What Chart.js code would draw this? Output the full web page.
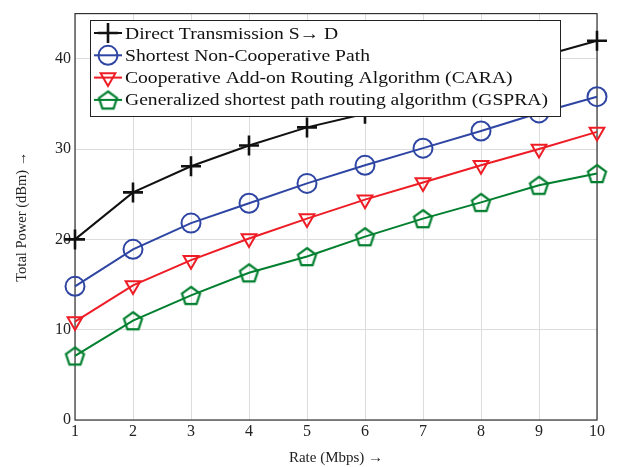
<!DOCTYPE html>
<html><head><meta charset="utf-8">
<script src="https://cdn.jsdelivr.net/npm/chart.js@4/dist/chart.umd.min.js"></script>
<style>html,body{margin:0;padding:0;background:#fff}#wrap{width:618px;height:467px}</style>
</head><body><div id="wrap"><canvas id="c" width="618" height="467"></canvas></div>
<script>
const rates = [1,2,3,4,5,6,7,8,9,10];
const direct = [20.0,25.2,28.1,30.4,32.4,33.9,36.0,38.1,40.2,42.0];
const shortest = [14.8,18.9,21.8,24.0,26.2,28.2,30.1,32.0,34.0,35.8];
const cara = [10.9,14.9,17.7,20.1,22.3,24.4,26.3,28.2,30.0,31.9];
const gspra = [7.1,11.0,13.8,16.3,18.1,20.3,22.3,24.1,26.0,27.3];
const labels = ["Direct Transmission S\u2192 D","Shortest Non-Cooperative Path","Cooperative Add-on Routing Algorithm (CARA)","Generalized shortest path routing algorithm (GSPRA)"];
const yTicks = [0,10,20,30,40];

const SERIF = "'Liberation Serif','DejaVu Serif',serif";

function pentagon(color, r){
  const s = Math.ceil(r*2+4);
  const cv = document.createElement('canvas'); cv.width=s; cv.height=s;
  const g = cv.getContext('2d');
  g.strokeStyle=color; g.lineWidth=2.2; g.lineJoin='miter';
  g.beginPath();
  for(let i=0;i<5;i++){
    const a = -Math.PI/2 + i*2*Math.PI/5;
    const x = s/2 + r*Math.cos(a), y = s/2 + 1 + r*Math.sin(a);
    if(i===0) g.moveTo(x,y); else g.lineTo(x,y);
  }
  g.closePath(); g.stroke();
  return cv;
}
const pent = pentagon('#007f2e', 9.5);

function mk(data){ return rates.map((x,i)=>({x, y:data[i]})); }

const datasets = [
  {label:labels[0], data:mk(direct), borderColor:'#111', pointStyle:'cross', pointRadius:10, pointBorderWidth:2.6, pointRotation:0},
  {label:labels[1], data:mk(shortest), borderColor:'#2e45a3', pointStyle:'circle', pointRadius:9.5, pointBorderWidth:2},
  {label:labels[2], data:mk(cara), borderColor:'#ee1c25', pointStyle:'triangle', pointRadius:8.5, pointBorderWidth:2, pointRotation:180},
  {label:labels[3], data:mk(gspra), borderColor:'#007f2e', pointStyle:pent, pointRadius:10, pointBorderWidth:2}
].map(d=>Object.assign({borderWidth:2, clip:false, backgroundColor:'rgba(0,0,0,0)', pointBackgroundColor:'rgba(0,0,0,0)', pointBorderColor:d.borderColor, tension:0}, d));

const frame = {
  id:'frame',
  beforeDatasetsDraw(chart){
    const {ctx, chartArea:a} = chart;
    ctx.save();
    ctx.strokeStyle='#333'; ctx.lineWidth=1.2;
    ctx.strokeRect(a.left, a.top, a.right-a.left, a.bottom-a.top);
    ctx.restore();
  },
  afterDatasetsDraw(chart){
    const {ctx} = chart;
    ctx.save();
    const lx=90, ly=20, lw=470, lh=96;
    ctx.fillStyle='#fff'; ctx.fillRect(lx,ly,lw,lh);
    ctx.strokeStyle='#222'; ctx.lineWidth=1; ctx.strokeRect(lx+0.5,ly+0.5,lw,lh);
    ctx.font = "17.5px " + SERIF;
    ctx.textBaseline='middle';
    chart.data.datasets.forEach((d,i)=>{
      const y = ly + 13 + i*22.3;
      const cx = 108;
      ctx.strokeStyle=d.borderColor; ctx.lineWidth=2;
      ctx.beginPath(); ctx.moveTo(94,y); ctx.lineTo(122,y); ctx.stroke();
      if(typeof d.pointStyle==='string'){
        ctx.fillStyle='rgba(0,0,0,0)';
        ctx.strokeStyle=d.borderColor;
        ctx.lineWidth=d.pointBorderWidth;
        Chart.helpers.drawPoint(ctx,{pointStyle:d.pointStyle, rotation:d.pointRotation||0, radius:d.pointRadius, borderWidth:d.pointBorderWidth}, cx, y);
      } else {
        ctx.drawImage(d.pointStyle, cx-d.pointStyle.width/2, y-d.pointStyle.height/2);
      }
      ctx.fillStyle='#111';
      ctx.save();
      ctx.translate(125, y+1);
      ctx.scale(1.12, 1);
      ctx.fillText(d.label, 0, 0);
      ctx.restore();
    });
    ctx.restore();
  }
};

new Chart(document.getElementById('c'), {
  type:'line',
  data:{datasets},
  options:{
    responsive:false, animation:false, devicePixelRatio:1,
    layout:{padding:{top:12, right:21, left:0, bottom:0}},
    plugins:{legend:{display:false}, tooltip:{enabled:false}},
    scales:{
      x:{type:'linear', min:1, max:10,
        ticks:{stepSize:1, color:'#222', font:{family:SERIF, size:16}, padding:2},
        grid:{color:'#dcdcdc', drawTicks:false, lineWidth:1},
        border:{display:false},
        title:{display:true, text:'Rate (Mbps) \u2192', color:'#222', font:{family:SERIF, size:15}, padding:{top:5,bottom:0}},
        afterFit(s){ s.height=47; }
      },
      y:{type:'linear', min:0, max:45,
        afterBuildTicks(s){ s.ticks = yTicks.map(v=>({value:v})); },
        ticks:{color:'#222', font:{family:SERIF, size:16}, padding:4},
        grid:{color:'#dcdcdc', drawTicks:false, lineWidth:1},
        border:{display:false},
        title:{display:true, text:'Total Power (dBm) \u2192', color:'#222', font:{family:SERIF, size:14.5}, padding:{top:13,bottom:6}},
        afterFit(s){ s.width=75; }
      }
    }
  },
  plugins:[frame]
});
</script></body></html>
